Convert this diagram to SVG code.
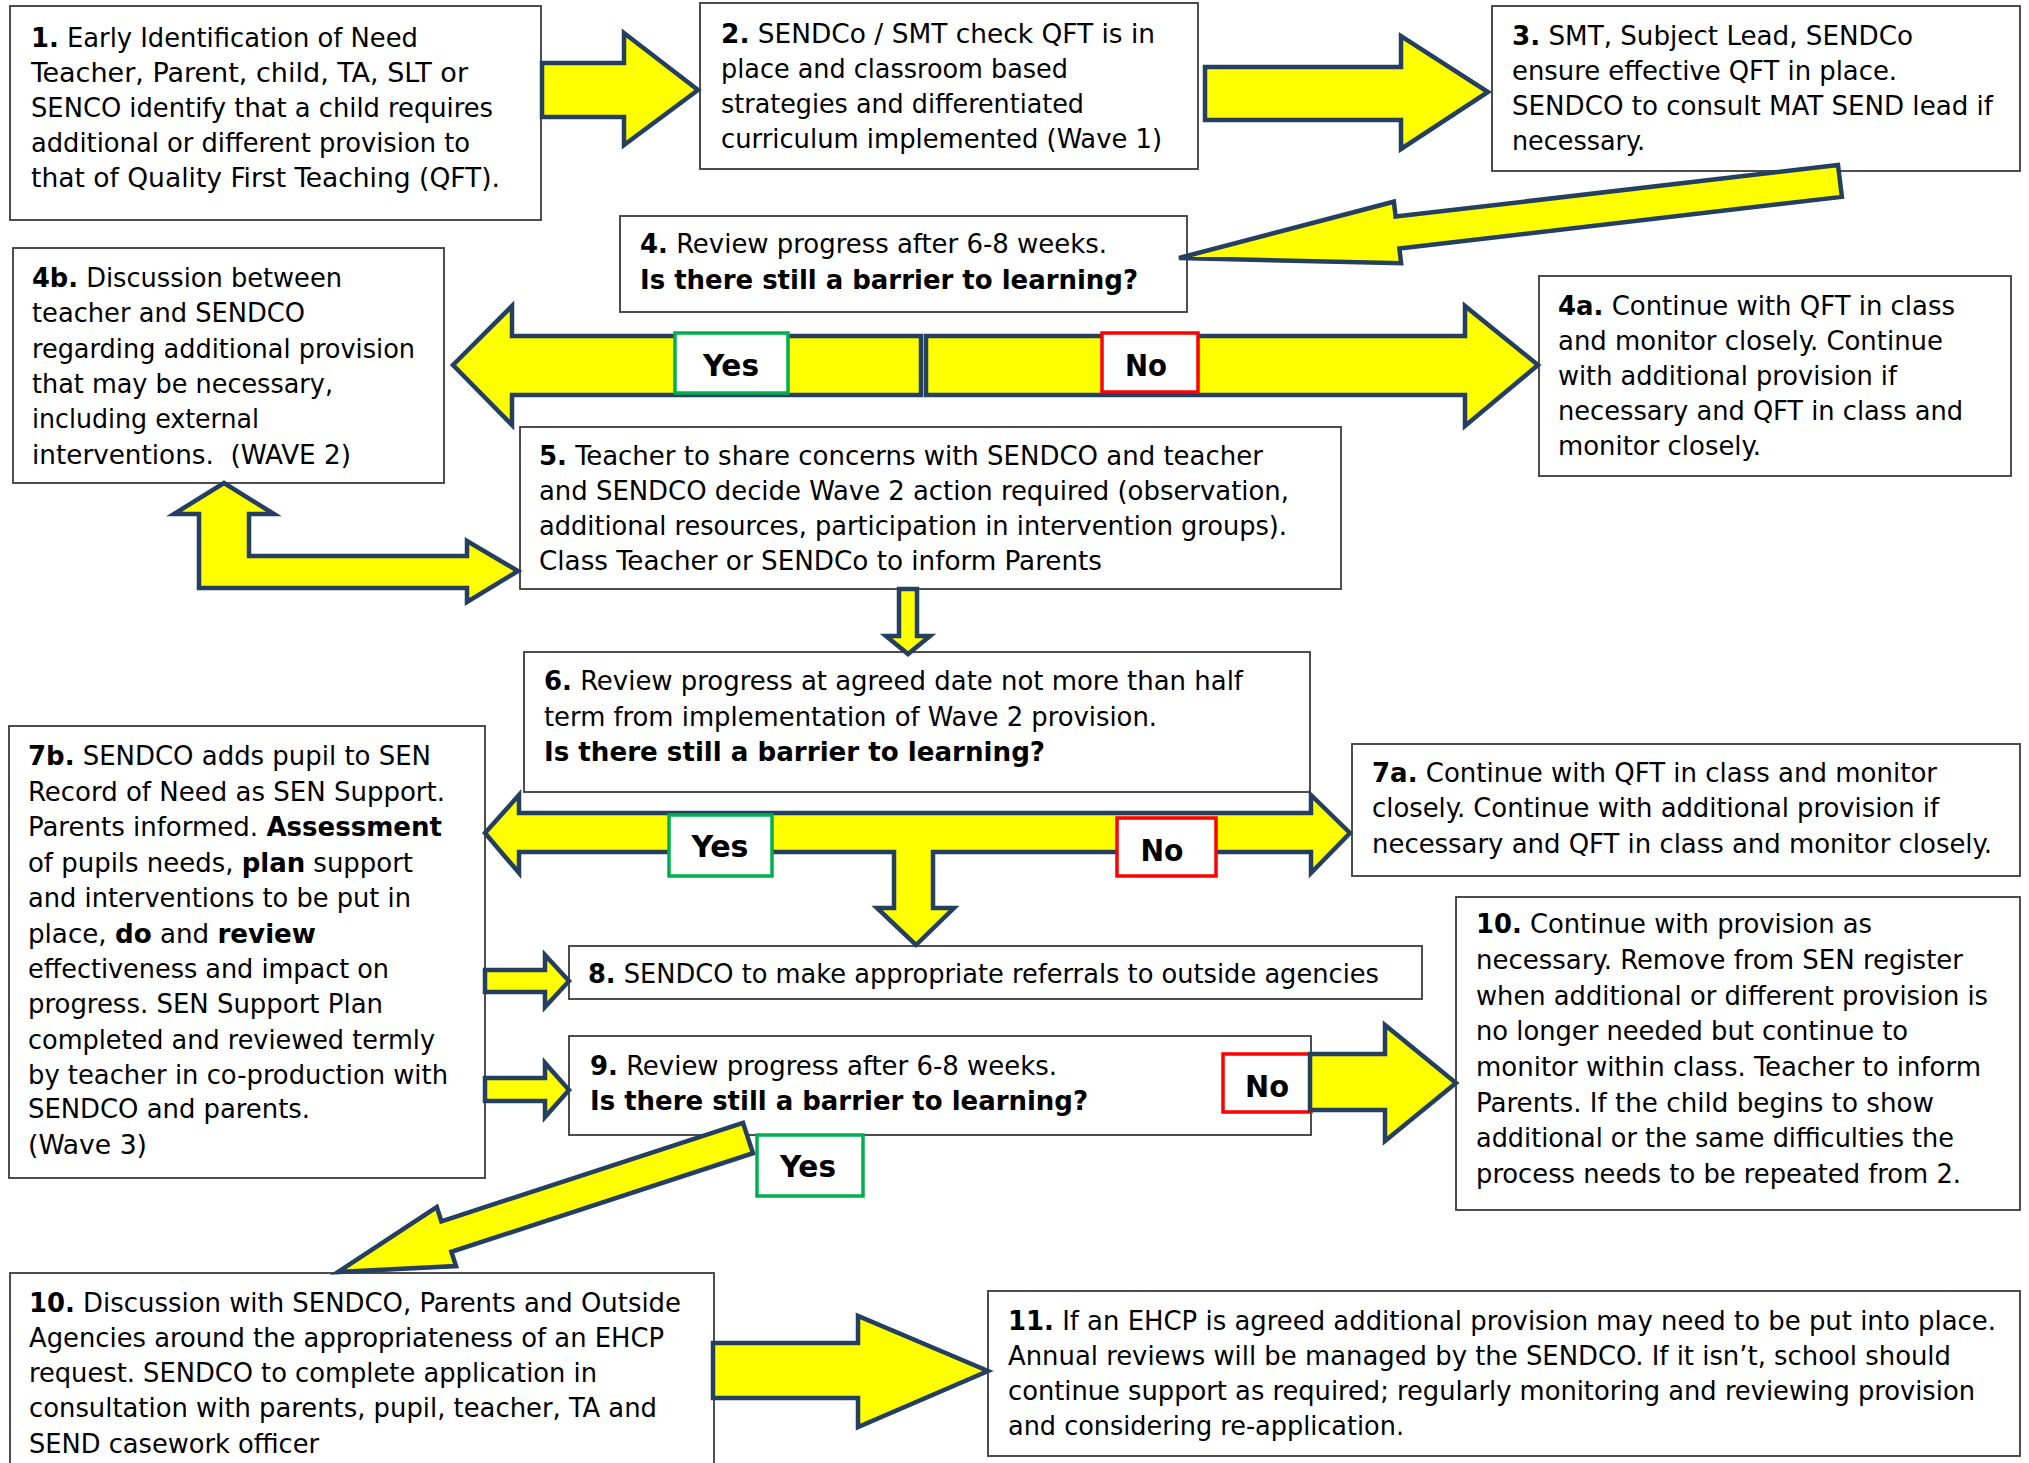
<svg xmlns="http://www.w3.org/2000/svg" width="2029" height="1463" viewBox="0 0 2029 1463">
<style>
.box{fill:#fff;stroke:#3b3b3b;stroke-width:1.8}
.arr{fill:#ffff00;stroke:#243f60;stroke-width:4.5;stroke-linejoin:miter}
.t{font-family:"DejaVu Sans Condensed","DejaVu Sans",sans-serif;font-size:27px;fill:#000}
.b{font-weight:bold}
.yes{fill:#fff;stroke:#00b050;stroke-width:3.5}
.no{fill:#fff;stroke:#ff0000;stroke-width:3.5}
.lbl{font-family:"DejaVu Sans Condensed","DejaVu Sans",sans-serif;font-size:30px;font-weight:bold;text-anchor:middle;fill:#000}
</style>
<rect width="2029" height="1463" fill="#fff"/>
<g id="n1">
<rect class="box" x="10" y="6" width="531" height="214"/>
<text class="t" x="31" y="47" textLength="387" lengthAdjust="spacingAndGlyphs"><tspan class="b">1.</tspan> Early Identification of Need</text>
<text class="t" x="31" y="82" textLength="437" lengthAdjust="spacingAndGlyphs">Teacher, Parent, child, TA, SLT or</text>
<text class="t" x="31" y="117" textLength="462" lengthAdjust="spacingAndGlyphs">SENCO identify that a child requires</text>
<text class="t" x="31" y="152" textLength="439" lengthAdjust="spacingAndGlyphs">additional or different provision to</text>
<text class="t" x="31" y="187" textLength="469" lengthAdjust="spacingAndGlyphs">that of Quality First Teaching (QFT).</text>
</g>
<g id="n2">
<rect class="box" x="700" y="3" width="498" height="166"/>
<text class="t" x="721" y="43" textLength="434" lengthAdjust="spacingAndGlyphs"><tspan class="b">2.</tspan> SENDCo / SMT check QFT is in</text>
<text class="t" x="721" y="78" textLength="347" lengthAdjust="spacingAndGlyphs">place and classroom based</text>
<text class="t" x="721" y="113" textLength="363" lengthAdjust="spacingAndGlyphs">strategies and differentiated</text>
<text class="t" x="721" y="148" textLength="441" lengthAdjust="spacingAndGlyphs">curriculum implemented (Wave 1)</text>
</g>
<g id="n3">
<rect class="box" x="1492" y="6" width="528" height="165"/>
<text class="t" x="1512" y="45" textLength="401" lengthAdjust="spacingAndGlyphs"><tspan class="b">3.</tspan> SMT, Subject Lead, SENDCo</text>
<text class="t" x="1512" y="80" textLength="385" lengthAdjust="spacingAndGlyphs">ensure effective QFT in place.</text>
<text class="t" x="1512" y="115" textLength="481" lengthAdjust="spacingAndGlyphs">SENDCO to consult MAT SEND lead if</text>
<text class="t" x="1512" y="150" textLength="133" lengthAdjust="spacingAndGlyphs">necessary.</text>
</g>
<g id="n4">
<rect class="box" x="620" y="216" width="567" height="96"/>
<text class="t" x="640" y="253" textLength="467" lengthAdjust="spacingAndGlyphs"><tspan class="b">4.</tspan> Review progress after 6-8 weeks.</text>
<text class="t b" x="640" y="289" textLength="498" lengthAdjust="spacingAndGlyphs">Is there still a barrier to learning?</text>
</g>
<g id="n4b">
<rect class="box" x="13" y="248" width="431" height="235"/>
<text class="t" x="32" y="287" textLength="310" lengthAdjust="spacingAndGlyphs"><tspan class="b">4b.</tspan> Discussion between</text>
<text class="t" x="32" y="322" textLength="273" lengthAdjust="spacingAndGlyphs">teacher and SENDCO</text>
<text class="t" x="32" y="358" textLength="383" lengthAdjust="spacingAndGlyphs">regarding additional provision</text>
<text class="t" x="32" y="393" textLength="301" lengthAdjust="spacingAndGlyphs">that may be necessary,</text>
<text class="t" x="32" y="428" textLength="227" lengthAdjust="spacingAndGlyphs">including external</text>
<text class="t" x="32" y="464" textLength="319" lengthAdjust="spacingAndGlyphs">interventions.&#160; (WAVE 2)</text>
</g>
<g id="n4a">
<rect class="box" x="1539" y="276" width="472" height="200"/>
<text class="t" x="1558" y="315" textLength="397" lengthAdjust="spacingAndGlyphs"><tspan class="b">4a.</tspan> Continue with QFT in class</text>
<text class="t" x="1558" y="350" textLength="385" lengthAdjust="spacingAndGlyphs">and monitor closely. Continue</text>
<text class="t" x="1558" y="385" textLength="339" lengthAdjust="spacingAndGlyphs">with additional provision if</text>
<text class="t" x="1558" y="420" textLength="405" lengthAdjust="spacingAndGlyphs">necessary and QFT in class and</text>
<text class="t" x="1558" y="455" textLength="203" lengthAdjust="spacingAndGlyphs">monitor closely.</text>
</g>
<g id="n5">
<rect class="box" x="520" y="427" width="821" height="162"/>
<text class="t" x="539" y="465" textLength="724" lengthAdjust="spacingAndGlyphs"><tspan class="b">5.</tspan> Teacher to share concerns with SENDCO and teacher</text>
<text class="t" x="539" y="500" textLength="750" lengthAdjust="spacingAndGlyphs">and SENDCO decide Wave 2 action required (observation,</text>
<text class="t" x="539" y="535" textLength="748" lengthAdjust="spacingAndGlyphs">additional resources, participation in intervention groups).</text>
<text class="t" x="539" y="570" textLength="563" lengthAdjust="spacingAndGlyphs">Class Teacher or SENDCo to inform Parents</text>
</g>
<g id="n6">
<rect class="box" x="524" y="652" width="786" height="140"/>
<text class="t" x="544" y="690" textLength="699" lengthAdjust="spacingAndGlyphs"><tspan class="b">6.</tspan> Review progress at agreed date not more than half</text>
<text class="t" x="544" y="726" textLength="613" lengthAdjust="spacingAndGlyphs">term from implementation of Wave 2 provision.</text>
<text class="t b" x="544" y="761" textLength="501" lengthAdjust="spacingAndGlyphs">Is there still a barrier to learning?</text>
</g>
<g id="n7a">
<rect class="box" x="1352" y="744" width="668" height="132"/>
<text class="t" x="1372" y="782" textLength="565" lengthAdjust="spacingAndGlyphs"><tspan class="b">7a.</tspan> Continue with QFT in class and monitor</text>
<text class="t" x="1372" y="817" textLength="567" lengthAdjust="spacingAndGlyphs">closely. Continue with additional provision if</text>
<text class="t" x="1372" y="853" textLength="620" lengthAdjust="spacingAndGlyphs">necessary and QFT in class and monitor closely.</text>
</g>
<g id="n7b">
<rect class="box" x="9" y="726" width="476" height="452"/>
<text class="t" x="28" y="765" textLength="403" lengthAdjust="spacingAndGlyphs"><tspan class="b">7b.</tspan> SENDCO adds pupil to SEN</text>
<text class="t" x="28" y="801" textLength="417" lengthAdjust="spacingAndGlyphs">Record of Need as SEN Support.</text>
<text class="t" x="28" y="836" textLength="414" lengthAdjust="spacingAndGlyphs">Parents informed. <tspan class="b">Assessment</tspan></text>
<text class="t" x="28" y="872" textLength="385" lengthAdjust="spacingAndGlyphs">of pupils needs, <tspan class="b">plan</tspan> support</text>
<text class="t" x="28" y="907" textLength="383" lengthAdjust="spacingAndGlyphs">and interventions to be put in</text>
<text class="t" x="28" y="943" textLength="288" lengthAdjust="spacingAndGlyphs">place, <tspan class="b">do</tspan> and <tspan class="b">review</tspan></text>
<text class="t" x="28" y="978" textLength="361" lengthAdjust="spacingAndGlyphs">effectiveness and impact on</text>
<text class="t" x="28" y="1013" textLength="355" lengthAdjust="spacingAndGlyphs">progress. SEN Support Plan</text>
<text class="t" x="28" y="1049" textLength="407" lengthAdjust="spacingAndGlyphs">completed and reviewed termly</text>
<text class="t" x="28" y="1084" textLength="420" lengthAdjust="spacingAndGlyphs">by teacher in co-production with</text>
<text class="t" x="28" y="1118" textLength="282" lengthAdjust="spacingAndGlyphs">SENDCO and parents.</text>
<text class="t" x="28" y="1154" textLength="119" lengthAdjust="spacingAndGlyphs">(Wave 3)</text>
</g>
<g id="n8">
<rect class="box" x="569" y="946" width="853" height="53"/>
<text class="t" x="588" y="983" textLength="791" lengthAdjust="spacingAndGlyphs"><tspan class="b">8.</tspan> SENDCO to make appropriate referrals to outside agencies</text>
</g>
<g id="n9">
<rect class="box" x="569" y="1036" width="742" height="99"/>
<text class="t" x="590" y="1075" textLength="467" lengthAdjust="spacingAndGlyphs"><tspan class="b">9.</tspan> Review progress after 6-8 weeks.</text>
<text class="t b" x="590" y="1110" textLength="498" lengthAdjust="spacingAndGlyphs">Is there still a barrier to learning?</text>
</g>
<g id="n10r">
<rect class="box" x="1456" y="897" width="564" height="313"/>
<text class="t" x="1476" y="933" textLength="396" lengthAdjust="spacingAndGlyphs"><tspan class="b">10.</tspan> Continue with provision as</text>
<text class="t" x="1476" y="969" textLength="487" lengthAdjust="spacingAndGlyphs">necessary. Remove from SEN register</text>
<text class="t" x="1476" y="1005" textLength="512" lengthAdjust="spacingAndGlyphs">when additional or different provision is</text>
<text class="t" x="1476" y="1040" textLength="432" lengthAdjust="spacingAndGlyphs">no longer needed but continue to</text>
<text class="t" x="1476" y="1076" textLength="505" lengthAdjust="spacingAndGlyphs">monitor within class. Teacher to inform</text>
<text class="t" x="1476" y="1112" textLength="458" lengthAdjust="spacingAndGlyphs">Parents. If the child begins to show</text>
<text class="t" x="1476" y="1147" textLength="478" lengthAdjust="spacingAndGlyphs">additional or the same difficulties the</text>
<text class="t" x="1476" y="1183" textLength="485" lengthAdjust="spacingAndGlyphs">process needs to be repeated from 2.</text>
</g>
<g id="n10l">
<rect class="box" x="10" y="1273" width="704" height="200"/>
<text class="t" x="29" y="1312" textLength="652" lengthAdjust="spacingAndGlyphs"><tspan class="b">10.</tspan> Discussion with SENDCO, Parents and Outside</text>
<text class="t" x="29" y="1347" textLength="635" lengthAdjust="spacingAndGlyphs">Agencies around the appropriateness of an EHCP</text>
<text class="t" x="29" y="1382" textLength="568" lengthAdjust="spacingAndGlyphs">request. SENDCO to complete application in</text>
<text class="t" x="29" y="1417" textLength="628" lengthAdjust="spacingAndGlyphs">consultation with parents, pupil, teacher, TA and</text>
<text class="t" x="29" y="1453" textLength="290" lengthAdjust="spacingAndGlyphs">SEND casework officer</text>
</g>
<g id="n11">
<rect class="box" x="988" y="1291" width="1032" height="165"/>
<text class="t" x="1008" y="1330" textLength="988" lengthAdjust="spacingAndGlyphs"><tspan class="b">11.</tspan> If an EHCP is agreed additional provision may need to be put into place.</text>
<text class="t" x="1008" y="1365" textLength="943" lengthAdjust="spacingAndGlyphs">Annual reviews will be managed by the SENDCO. If it isn’t, school should</text>
<text class="t" x="1008" y="1400" textLength="967" lengthAdjust="spacingAndGlyphs">continue support as required; regularly monitoring and reviewing provision</text>
<text class="t" x="1008" y="1435" textLength="396" lengthAdjust="spacingAndGlyphs">and considering re-application.</text>
</g>
<g id="no9">
<rect class="no" x="1223" y="1054" width="88" height="58"/>
<text class="lbl" x="1267" y="1097" textLength="44" lengthAdjust="spacingAndGlyphs">No</text>
</g>
<g id="connectors">
<polygon class="arr" points="542,63 624,63 624,33 698,90 624,145 624,117 542,117"/>
<polygon class="arr" points="1205,67 1401,67 1401,36 1488,92 1401,149 1401,120 1205,120"/>
<polygon class="arr" points="1838,165 1395.6,216.6 1393.9,201.7 1179,258 1401.1,263.3 1399.4,248.4 1841.9,196.9"/>
<polygon class="arr" points="453,365 512,306 512,336 921,336 921,395 512,395 512,425"/>
<polygon class="arr" points="926,336 1465,336 1465,306 1538,365 1465,426 1465,395 926,395"/>
<polygon class="arr" points="224,483 274,514 249,514 249,556 467,556 467,541 518,571 467,602 467,588 199,588 199,514 174,514"/>
<polygon class="arr" points="899,589 917,589 917,636 930,636 908,654 886,636 899,636"/>
<polygon class="arr" points="485,833 519,795 519,813 1311,813 1311,795 1350,833 1311,873 1311,852 933,852 933,908 954,908 916,945 877,908 894,908 894,852 519,852 519,873"/>
<polygon class="arr" points="485,970 545,970 545,955 569,981 545,1007 545,992 485,992"/>
<polygon class="arr" points="485,1078 545,1078 545,1063 569,1090 545,1117 545,1101 485,1101"/>
<polygon class="arr" points="1310,1054 1385,1054 1385,1025 1456,1083 1385,1141 1385,1110 1310,1110"/>
<polygon class="arr" points="743,1122.8 441.4,1221.4 436.8,1207.1 338,1272 456,1266.1 451.4,1251.8 753,1153.2"/>
<polygon class="arr" points="713,1343 858,1343 858,1316 988,1371 858,1427 858,1398 713,1398"/>
</g>
<g id="yes4">
<rect class="yes" x="675" y="333" width="113" height="60"/>
<text class="lbl" x="731" y="376" textLength="56" lengthAdjust="spacingAndGlyphs">Yes</text>
</g>
<g id="no4">
<rect class="no" x="1102" y="333" width="96" height="59"/>
<text class="lbl" x="1146" y="376" textLength="42" lengthAdjust="spacingAndGlyphs">No</text>
</g>
<g id="yes6">
<rect class="yes" x="669" y="815" width="103" height="61"/>
<text class="lbl" x="720" y="857" textLength="57" lengthAdjust="spacingAndGlyphs">Yes</text>
</g>
<g id="no6">
<rect class="no" x="1117" y="818" width="99" height="58"/>
<text class="lbl" x="1162" y="861" textLength="43" lengthAdjust="spacingAndGlyphs">No</text>
</g>
<g id="yes9">
<rect class="yes" x="757" y="1135" width="106" height="61"/>
<text class="lbl" x="808" y="1177" textLength="56" lengthAdjust="spacingAndGlyphs">Yes</text>
</g>
</svg>
